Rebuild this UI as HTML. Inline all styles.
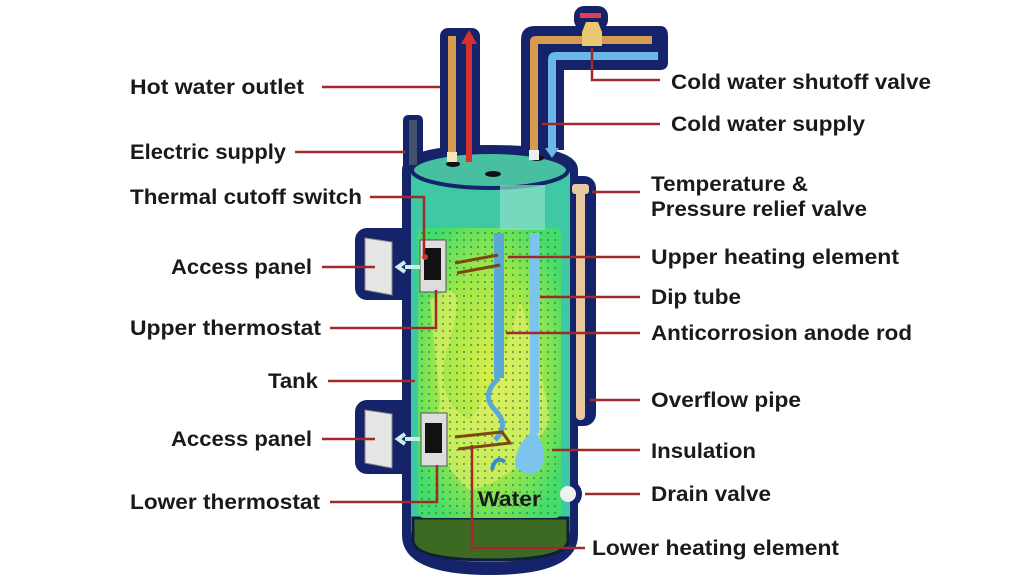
<!DOCTYPE html>
<html><head><meta charset="utf-8"><style>
html,body{margin:0;padding:0;background:#fff;}
svg{display:block}
text{font-family:"Liberation Sans",sans-serif;font-weight:bold;font-size:21px;fill:#1a1a1a}
</style></head><body>
<svg width="1024" height="585" viewBox="0 0 1024 585" xmlns="http://www.w3.org/2000/svg">
<defs>
<pattern id="dots" width="7" height="7" patternUnits="userSpaceOnUse">
<circle cx="2" cy="2" r="1.1" fill="#2a6a3a" opacity="0.6"/>
</pattern>
<radialGradient id="wg" cx="0.5" cy="0.5" r="0.6">
<stop offset="0" stop-color="#d8ee4a"/><stop offset="0.6" stop-color="#9ee84a"/><stop offset="1" stop-color="#44dc6a"/>
</radialGradient>
</defs>
<g fill="#15246a">
<rect x="440" y="28" width="40" height="140" rx="8"/>
<path d="M521 150 V40 Q521 26 535 26 H660 Q668 26 668 36 V62 Q668 70 660 70 H564 V150 Z"/>
<rect x="574" y="6" width="34" height="24" rx="10"/>
<rect x="403" y="115" width="20" height="55" rx="5"/>
<rect x="566" y="176" width="30" height="250" rx="12"/>
<rect x="355" y="228" width="60" height="72" rx="12"/>
<rect x="355" y="400" width="60" height="74" rx="12"/>
<circle cx="568" cy="494" r="14"/>
<path d="M402 170 Q402 145 490 145 Q578 145 578 170 V535 Q578 575 490 575 Q402 575 402 535 Z"/>
</g>
<path d="M411 172 Q411 160 490 158 Q570 160 570 172 V530 Q570 562 490 562 Q411 562 411 530 Z" fill="#3ec9a4"/>
<ellipse cx="490" cy="170" rx="78" ry="18" fill="#47bfa0" stroke="#15246a" stroke-width="4"/>
<ellipse cx="493" cy="174" rx="8" ry="3" fill="#111"/>
<ellipse cx="453" cy="164" rx="7" ry="3" fill="#111"/>
<ellipse cx="537" cy="158" rx="7" ry="3" fill="#111"/>
<path d="M413 518 H568 V540 Q568 560 490 560 Q413 560 413 540 Z" fill="#3d6a22" stroke="#0f1f3a" stroke-width="3"/>
<rect x="418" y="228" width="143" height="290" rx="6" fill="url(#wg)"/>
<path d="M430 300 Q470 270 450 340 Q430 400 470 420 Q500 380 520 300 Q540 360 550 420 Q520 480 470 490 Q430 460 440 400 Z" fill="#e4f06a" opacity="0.6"/>
<rect x="418" y="228" width="143" height="290" rx="6" fill="url(#dots)"/>
<rect x="500" y="185" width="45" height="45" fill="#8fe0c8" opacity="0.7"/>
<rect x="494" y="233" width="10" height="145" fill="#5aa8d8"/>
<path d="M499 378 Q480 395 495 410 Q510 425 495 440" stroke="#5aa8d8" stroke-width="5" fill="none"/>
<rect x="530" y="233" width="9" height="200" fill="#7cc4ec"/>
<path d="M534 430 Q550 450 540 470 Q525 480 515 465 Q515 445 534 430 Z" fill="#7cc4ec"/>
<path d="M492 470 Q495 455 505 462" stroke="#3a8ac8" stroke-width="4" fill="none"/>
<g stroke="#7a4a10" stroke-width="3" fill="none">
<path d="M455 263 L498 255"/><path d="M457 273 L500 265"/>
<path d="M455 437 L502 432 L510 443 L458 449"/>
</g>
<g>
<rect x="420" y="240" width="26" height="52" fill="#ddd" stroke="#555" stroke-width="1"/>
<rect x="424" y="248" width="17" height="32" fill="#111"/>
<circle cx="425" cy="257" r="3" fill="#c33"/>
<rect x="421" y="413" width="26" height="53" fill="#ddd" stroke="#555" stroke-width="1"/>
<rect x="425" y="423" width="17" height="30" fill="#111"/>
</g>
<path d="M365 238 L392 242 V295 L365 290 Z" fill="#e6e6e6" stroke="#888"/>
<path d="M365 410 L392 414 V468 L365 463 Z" fill="#e6e6e6" stroke="#888"/>
<path d="M420 267 H405 M405 262 L398 267 L405 272" stroke="#cfeee8" stroke-width="4" fill="none"/>
<path d="M420 439 H405 M405 434 L398 439 L405 444" stroke="#cfeee8" stroke-width="4" fill="none"/>
<rect x="448" y="36" width="8" height="122" fill="#d69a50"/>
<rect x="447" y="152" width="10" height="10" fill="#f3e6b8"/>
<rect x="466" y="42" width="6" height="120" fill="#d8302c"/>
<path d="M461 44 L469 30 L477 44 Z" fill="#d8302c"/>
<path d="M530 155 V42 Q530 36 536 36 H652 V44 H538 V155 Z" fill="#d69a50"/>
<rect x="529" y="150" width="10" height="10" fill="#eee"/>
<path d="M548 152 V60 Q548 52 556 52 H658 V60 H556 V152 Z" fill="#6ab8e8"/>
<path d="M545 148 L552 158 L559 148 Z" fill="#6ab8e8"/>
<path d="M586 22 H598 L602 32 V46 H582 V32 Z" fill="#e8c870"/>
<rect x="580" y="13" width="21" height="5" fill="#e04050"/>
<rect x="409" y="120" width="8" height="45" fill="#44506a"/>
<rect x="576" y="188" width="9" height="232" rx="4" fill="#e8c8a0"/>
<rect x="572" y="184" width="17" height="10" rx="3" fill="#e8c8a0"/>
<circle cx="568" cy="494" r="8" fill="#f0f0f0"/>
<g stroke="#a02a2a" stroke-width="2.5" fill="none">
<path d="M322 87 H440"/><path d="M295 152 H405"/>
<path d="M370 197 H424 V255"/>
<path d="M322 267 H375"/><path d="M330 328 H436 V290"/>
<path d="M328 381 H415"/><path d="M322 439 H375"/>
<path d="M330 502 H437 V465"/>
<path d="M592 48 V80 H660"/><path d="M542 124 H660"/>
<path d="M592 192 H640"/><path d="M508 257 H640"/>
<path d="M540 297 H640"/><path d="M506 333 H640"/>
<path d="M590 400 H640"/><path d="M552 450 H640"/>
<path d="M585 494 H640"/><path d="M472 445 V548 H585"/>
</g>
<g>
<text x="130" y="94" textLength="174" lengthAdjust="spacingAndGlyphs">Hot water outlet</text>
<text x="130" y="159" textLength="156" lengthAdjust="spacingAndGlyphs">Electric supply</text>
<text x="130" y="204" textLength="232" lengthAdjust="spacingAndGlyphs">Thermal cutoff switch</text>
<text x="171" y="274" textLength="141" lengthAdjust="spacingAndGlyphs">Access panel</text>
<text x="130" y="335" textLength="191" lengthAdjust="spacingAndGlyphs">Upper thermostat</text>
<text x="268" y="388" textLength="50" lengthAdjust="spacingAndGlyphs">Tank</text>
<text x="171" y="446" textLength="141" lengthAdjust="spacingAndGlyphs">Access panel</text>
<text x="130" y="509" textLength="190" lengthAdjust="spacingAndGlyphs">Lower thermostat</text>
<text x="671" y="89" textLength="260" lengthAdjust="spacingAndGlyphs">Cold water shutoff valve</text>
<text x="671" y="131" textLength="194" lengthAdjust="spacingAndGlyphs">Cold water supply</text>
<text x="651" y="191" textLength="157" lengthAdjust="spacingAndGlyphs">Temperature &amp;</text>
<text x="651" y="216" textLength="216" lengthAdjust="spacingAndGlyphs">Pressure relief valve</text>
<text x="651" y="264" textLength="248" lengthAdjust="spacingAndGlyphs">Upper heating element</text>
<text x="651" y="304" textLength="90" lengthAdjust="spacingAndGlyphs">Dip tube</text>
<text x="651" y="340" textLength="261" lengthAdjust="spacingAndGlyphs">Anticorrosion anode rod</text>
<text x="651" y="407" textLength="150" lengthAdjust="spacingAndGlyphs">Overflow pipe</text>
<text x="651" y="458" textLength="105" lengthAdjust="spacingAndGlyphs">Insulation</text>
<text x="651" y="501" textLength="120" lengthAdjust="spacingAndGlyphs">Drain valve</text>
<text x="592" y="555" textLength="247" lengthAdjust="spacingAndGlyphs">Lower heating element</text>
<text x="478" y="506" textLength="63" lengthAdjust="spacingAndGlyphs">Water</text>
</g>
</svg>
</body></html>
